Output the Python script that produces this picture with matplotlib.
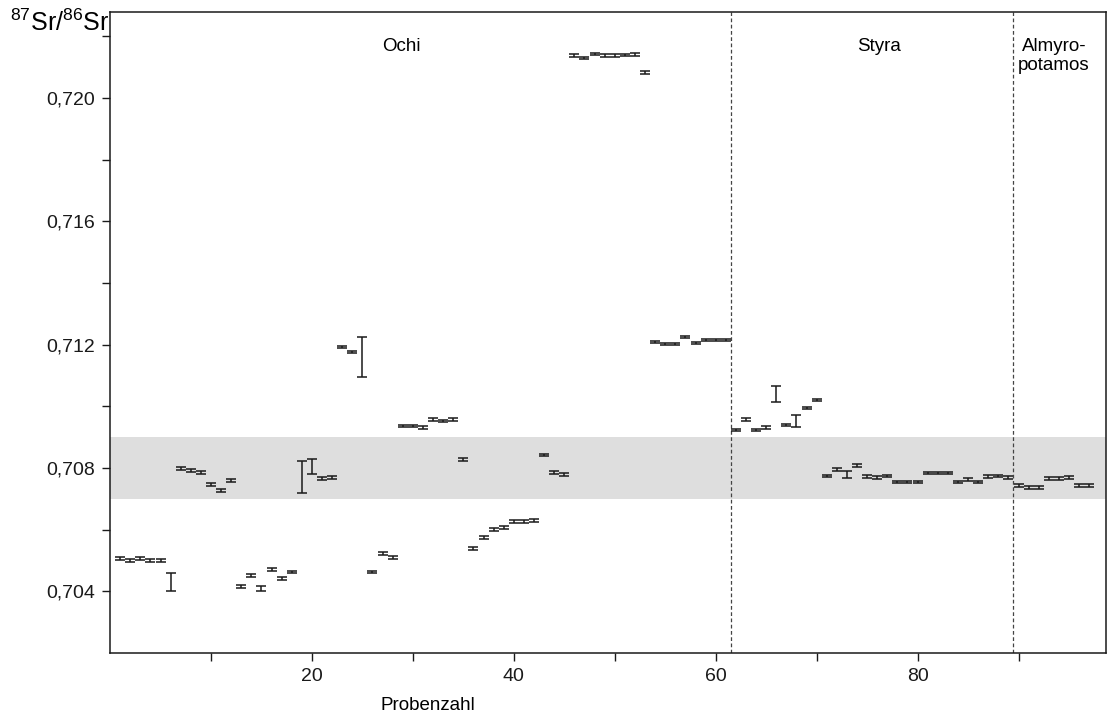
import numpy as np
import matplotlib
matplotlib.use('Agg')
import matplotlib.pyplot as plt

plt.rcParams['font.family'] = ['Liberation Sans', 'DejaVu Sans']
plt.rcParams['mathtext.fontset'] = 'custom'
plt.rcParams['mathtext.rm'] = 'Liberation Sans'

# sample number (Probenzahl) and 87Sr/86Sr ratio
probe = np.arange(1, 98)
ratio = [
    0.70507, 0.70500, 0.70507, 0.70500, 0.70500, 0.70430, 0.70798, 0.70792, 0.70785, 0.70746,
    0.70727, 0.70759, 0.70416, 0.70452, 0.70410, 0.70471, 0.70442, 0.70462, 0.70771, 0.70806,
    0.70766, 0.70769, 0.71193, 0.71177, 0.71161, 0.70462, 0.70523, 0.70510, 0.70937, 0.70937,
    0.70932, 0.70957, 0.70953, 0.70957, 0.70827, 0.70539, 0.70575, 0.70600, 0.70607, 0.70627,
    0.70627, 0.70630, 0.70843, 0.70785, 0.70779, 0.72138, 0.72131, 0.72143, 0.72138, 0.72138,
    0.72140, 0.72142, 0.72083, 0.71209, 0.71203, 0.71203, 0.71225, 0.71206, 0.71215, 0.71215,
    0.71215, 0.70924, 0.70957, 0.70924, 0.70931, 0.71041, 0.70940, 0.70953, 0.70995, 0.71021,
    0.70775, 0.70795, 0.70779, 0.70808, 0.70772, 0.70769, 0.70775, 0.70754, 0.70754, 0.70754,
    0.70784, 0.70784, 0.70784, 0.70755, 0.70763, 0.70755, 0.70772, 0.70775, 0.70769, 0.70743,
    0.70737, 0.70737, 0.70766, 0.70766, 0.70769, 0.70743, 0.70743,
]
# 2-sigma errors; most are small
err = np.full(len(probe), 0.00004)
large_err = {6: 0.00029, 15: 0.00008, 19: 0.00053, 20: 0.00024, 25: 0.00065,
             66: 0.00026, 68: 0.00020, 73: 0.00012}
for k, v in large_err.items():
    err[k - 1] = v

# seawater-like band and site boundaries
band = (0.707, 0.709)
boundaries = [61.5, 89.5]
sites = ['Ochi', 'Styra', 'Almyro-\npotamos']
site_x = [28.9, 76.2, 93.5]

fig = plt.figure(figsize=(11.07, 7.22), dpi=100)
ax = fig.add_axes([0.0994, 0.0956, 0.9, 0.888])

ax.axhspan(band[0], band[1], color='#dedede', lw=0, zorder=0)
for b in boundaries:
    ax.axvline(b, color='#444444', lw=0.9, ls=(0, (3, 2)), zorder=1)

ax.errorbar(probe, ratio, yerr=err, fmt='none', ecolor='#1a1a1a',
            elinewidth=1.1, capsize=3.6, capthick=1.1, zorder=3)

for name, sx in zip(sites, site_x):
    ax.text(sx, 0.72195, name, ha='center', va='top', fontsize=13.5, linespacing=1.15)

ax.set_xlim(0, 98.7)
ax.set_ylim(0.702, 0.7228)

ax.set_xticks(np.arange(10, 100, 10))
ax.set_xticklabels([str(t) if t % 20 == 0 else '' for t in range(10, 100, 10)])
yt = np.arange(0.704, 0.7221, 0.002)
ax.set_yticks(yt)
ax.set_yticklabels([('%.3f' % t).replace('.', ',') if round(t * 1000) % 4 == 0 else '' for t in yt])
ax.tick_params(direction='out', length=6, width=1, labelsize=14, colors='#1a1a1a', pad=5)

for s in ax.spines.values():
    s.set_linewidth(1.1)
    s.set_color('#1a1a1a')

fig.text(428 / 1107, 1 - 706 / 722, 'Probenzahl', fontsize=13.5, ha='center', va='center')
fig.text(0.009, 0.968, r'$^{87}$Sr/$^{86}$Sr', fontsize=18, ha='left', va='center')

fig.savefig('out.png', dpi=100)
